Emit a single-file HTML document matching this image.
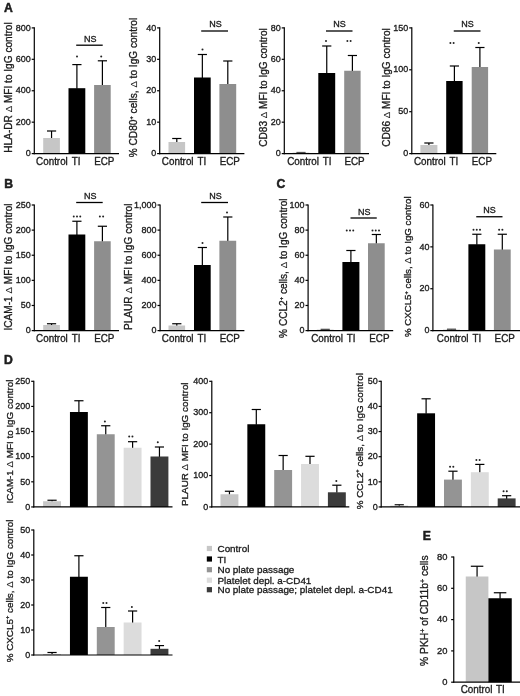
<!DOCTYPE html>
<html><head><meta charset="utf-8"><title>Figure</title>
<style>
html,body{margin:0;padding:0;background:#fff;}
body{width:520px;height:696px;overflow:hidden;font-family:"Liberation Sans",sans-serif;}
svg{display:block;}
</style></head><body>
<svg width="520" height="696" viewBox="0 0 520 696" font-family="'Liberation Sans', sans-serif" fill="#1c1c1c">
<defs><filter id="bs" x="0" y="0" width="520" height="696" filterUnits="userSpaceOnUse"><feGaussianBlur stdDeviation="0.3"/></filter>
<filter id="bt" x="0" y="0" width="520" height="696" filterUnits="userSpaceOnUse"><feGaussianBlur stdDeviation="0.45"/></filter></defs>
<rect x="0" y="0" width="520" height="696" fill="#ffffff"/>
<g filter="url(#bs)">
<line x1="51.55" y1="131.00" x2="51.55" y2="138.50" stroke="#000" stroke-width="1.2"/>
<line x1="46.95" y1="131.00" x2="56.15" y2="131.00" stroke="#000" stroke-width="1.2"/>
<rect x="43.20" y="138.00" width="16.70" height="15.60" fill="#c6c6c6" stroke="none"/>
<line x1="76.90" y1="64.60" x2="76.90" y2="88.70" stroke="#000" stroke-width="1.2"/>
<line x1="72.30" y1="64.60" x2="81.50" y2="64.60" stroke="#000" stroke-width="1.2"/>
<rect x="68.50" y="88.20" width="16.80" height="65.40" fill="#000000" stroke="none"/>
<line x1="102.40" y1="60.80" x2="102.40" y2="85.50" stroke="#000" stroke-width="1.2"/>
<line x1="97.80" y1="60.80" x2="107.00" y2="60.80" stroke="#000" stroke-width="1.2"/>
<rect x="94.10" y="85.00" width="16.60" height="68.60" fill="#8e8e8e" stroke="none"/>
<line x1="34.30" y1="27.30" x2="34.30" y2="154.20" stroke="#000" stroke-width="1.2"/>
<line x1="33.70" y1="153.60" x2="119.00" y2="153.60" stroke="#000" stroke-width="1.2"/>
<line x1="31.70" y1="27.90" x2="34.30" y2="27.90" stroke="#000" stroke-width="1.2"/>
<line x1="31.70" y1="59.32" x2="34.30" y2="59.32" stroke="#000" stroke-width="1.2"/>
<line x1="31.70" y1="90.75" x2="34.30" y2="90.75" stroke="#000" stroke-width="1.2"/>
<line x1="31.70" y1="122.17" x2="34.30" y2="122.17" stroke="#000" stroke-width="1.2"/>
<line x1="31.70" y1="153.60" x2="34.30" y2="153.60" stroke="#000" stroke-width="1.2"/>
<line x1="76.20" y1="45.20" x2="102.70" y2="45.20" stroke="#000" stroke-width="1.3"/>
<line x1="176.80" y1="138.50" x2="176.80" y2="142.50" stroke="#000" stroke-width="1.2"/>
<line x1="172.20" y1="138.50" x2="181.40" y2="138.50" stroke="#000" stroke-width="1.2"/>
<rect x="168.50" y="142.00" width="16.60" height="11.60" fill="#c6c6c6" stroke="none"/>
<line x1="202.35" y1="54.50" x2="202.35" y2="78.00" stroke="#000" stroke-width="1.2"/>
<line x1="197.75" y1="54.50" x2="206.95" y2="54.50" stroke="#000" stroke-width="1.2"/>
<rect x="194.00" y="77.50" width="16.70" height="76.10" fill="#000000" stroke="none"/>
<line x1="227.80" y1="61.00" x2="227.80" y2="84.50" stroke="#000" stroke-width="1.2"/>
<line x1="223.20" y1="61.00" x2="232.40" y2="61.00" stroke="#000" stroke-width="1.2"/>
<rect x="219.40" y="84.00" width="16.80" height="69.60" fill="#8e8e8e" stroke="none"/>
<line x1="159.70" y1="27.30" x2="159.70" y2="154.20" stroke="#000" stroke-width="1.2"/>
<line x1="159.10" y1="153.60" x2="244.40" y2="153.60" stroke="#000" stroke-width="1.2"/>
<line x1="157.10" y1="27.90" x2="159.70" y2="27.90" stroke="#000" stroke-width="1.2"/>
<line x1="157.10" y1="59.32" x2="159.70" y2="59.32" stroke="#000" stroke-width="1.2"/>
<line x1="157.10" y1="90.75" x2="159.70" y2="90.75" stroke="#000" stroke-width="1.2"/>
<line x1="157.10" y1="122.17" x2="159.70" y2="122.17" stroke="#000" stroke-width="1.2"/>
<line x1="157.10" y1="153.60" x2="159.70" y2="153.60" stroke="#000" stroke-width="1.2"/>
<line x1="201.20" y1="31.00" x2="228.00" y2="31.00" stroke="#000" stroke-width="1.3"/>
<line x1="301.00" y1="152.50" x2="301.00" y2="153.10" stroke="#000" stroke-width="1.2"/>
<line x1="296.40" y1="152.50" x2="305.60" y2="152.50" stroke="#000" stroke-width="1.2"/>
<rect x="292.60" y="152.60" width="16.80" height="1.00" fill="#c6c6c6" stroke="none"/>
<line x1="326.75" y1="46.00" x2="326.75" y2="73.50" stroke="#000" stroke-width="1.2"/>
<line x1="322.15" y1="46.00" x2="331.35" y2="46.00" stroke="#000" stroke-width="1.2"/>
<rect x="318.30" y="73.00" width="16.90" height="80.60" fill="#000000" stroke="none"/>
<line x1="352.40" y1="55.50" x2="352.40" y2="71.25" stroke="#000" stroke-width="1.2"/>
<line x1="347.80" y1="55.50" x2="357.00" y2="55.50" stroke="#000" stroke-width="1.2"/>
<rect x="344.20" y="70.75" width="16.40" height="82.85" fill="#8e8e8e" stroke="none"/>
<line x1="284.30" y1="27.30" x2="284.30" y2="154.20" stroke="#000" stroke-width="1.2"/>
<line x1="283.70" y1="153.60" x2="369.00" y2="153.60" stroke="#000" stroke-width="1.2"/>
<line x1="281.70" y1="27.90" x2="284.30" y2="27.90" stroke="#000" stroke-width="1.2"/>
<line x1="281.70" y1="59.32" x2="284.30" y2="59.32" stroke="#000" stroke-width="1.2"/>
<line x1="281.70" y1="90.75" x2="284.30" y2="90.75" stroke="#000" stroke-width="1.2"/>
<line x1="281.70" y1="122.17" x2="284.30" y2="122.17" stroke="#000" stroke-width="1.2"/>
<line x1="281.70" y1="153.60" x2="284.30" y2="153.60" stroke="#000" stroke-width="1.2"/>
<line x1="326.00" y1="31.00" x2="352.50" y2="31.00" stroke="#000" stroke-width="1.3"/>
<line x1="428.90" y1="143.00" x2="428.90" y2="145.50" stroke="#000" stroke-width="1.2"/>
<line x1="424.30" y1="143.00" x2="433.50" y2="143.00" stroke="#000" stroke-width="1.2"/>
<rect x="420.40" y="145.00" width="17.00" height="8.60" fill="#c6c6c6" stroke="none"/>
<line x1="454.40" y1="66.00" x2="454.40" y2="81.50" stroke="#000" stroke-width="1.2"/>
<line x1="449.80" y1="66.00" x2="459.00" y2="66.00" stroke="#000" stroke-width="1.2"/>
<rect x="446.20" y="81.00" width="16.40" height="72.60" fill="#000000" stroke="none"/>
<line x1="479.90" y1="47.50" x2="479.90" y2="67.50" stroke="#000" stroke-width="1.2"/>
<line x1="475.30" y1="47.50" x2="484.50" y2="47.50" stroke="#000" stroke-width="1.2"/>
<rect x="471.70" y="67.00" width="16.40" height="86.60" fill="#8e8e8e" stroke="none"/>
<line x1="411.80" y1="27.30" x2="411.80" y2="154.20" stroke="#000" stroke-width="1.2"/>
<line x1="411.20" y1="153.60" x2="496.30" y2="153.60" stroke="#000" stroke-width="1.2"/>
<line x1="409.20" y1="27.90" x2="411.80" y2="27.90" stroke="#000" stroke-width="1.2"/>
<line x1="409.20" y1="69.80" x2="411.80" y2="69.80" stroke="#000" stroke-width="1.2"/>
<line x1="409.20" y1="111.70" x2="411.80" y2="111.70" stroke="#000" stroke-width="1.2"/>
<line x1="409.20" y1="153.60" x2="411.80" y2="153.60" stroke="#000" stroke-width="1.2"/>
<line x1="453.75" y1="31.00" x2="480.50" y2="31.00" stroke="#000" stroke-width="1.3"/>
<line x1="51.55" y1="323.75" x2="51.55" y2="325.50" stroke="#000" stroke-width="1.2"/>
<line x1="46.95" y1="323.75" x2="56.15" y2="323.75" stroke="#000" stroke-width="1.2"/>
<rect x="43.20" y="325.00" width="16.70" height="5.60" fill="#c6c6c6" stroke="none"/>
<line x1="76.90" y1="221.25" x2="76.90" y2="235.00" stroke="#000" stroke-width="1.2"/>
<line x1="72.30" y1="221.25" x2="81.50" y2="221.25" stroke="#000" stroke-width="1.2"/>
<rect x="68.50" y="234.50" width="16.80" height="96.10" fill="#000000" stroke="none"/>
<line x1="102.40" y1="226.25" x2="102.40" y2="241.75" stroke="#000" stroke-width="1.2"/>
<line x1="97.80" y1="226.25" x2="107.00" y2="226.25" stroke="#000" stroke-width="1.2"/>
<rect x="94.10" y="241.25" width="16.60" height="89.35" fill="#8e8e8e" stroke="none"/>
<line x1="34.30" y1="204.40" x2="34.30" y2="331.20" stroke="#000" stroke-width="1.2"/>
<line x1="33.70" y1="330.60" x2="119.00" y2="330.60" stroke="#000" stroke-width="1.2"/>
<line x1="31.70" y1="205.00" x2="34.30" y2="205.00" stroke="#000" stroke-width="1.2"/>
<line x1="31.70" y1="230.12" x2="34.30" y2="230.12" stroke="#000" stroke-width="1.2"/>
<line x1="31.70" y1="255.24" x2="34.30" y2="255.24" stroke="#000" stroke-width="1.2"/>
<line x1="31.70" y1="280.36" x2="34.30" y2="280.36" stroke="#000" stroke-width="1.2"/>
<line x1="31.70" y1="305.48" x2="34.30" y2="305.48" stroke="#000" stroke-width="1.2"/>
<line x1="31.70" y1="330.60" x2="34.30" y2="330.60" stroke="#000" stroke-width="1.2"/>
<line x1="76.20" y1="202.50" x2="102.70" y2="202.50" stroke="#000" stroke-width="1.3"/>
<line x1="176.80" y1="323.75" x2="176.80" y2="326.00" stroke="#000" stroke-width="1.2"/>
<line x1="172.20" y1="323.75" x2="181.40" y2="323.75" stroke="#000" stroke-width="1.2"/>
<rect x="168.50" y="325.50" width="16.60" height="5.10" fill="#c6c6c6" stroke="none"/>
<line x1="202.35" y1="247.50" x2="202.35" y2="265.50" stroke="#000" stroke-width="1.2"/>
<line x1="197.75" y1="247.50" x2="206.95" y2="247.50" stroke="#000" stroke-width="1.2"/>
<rect x="194.00" y="265.00" width="16.70" height="65.60" fill="#000000" stroke="none"/>
<line x1="227.80" y1="217.00" x2="227.80" y2="241.25" stroke="#000" stroke-width="1.2"/>
<line x1="223.20" y1="217.00" x2="232.40" y2="217.00" stroke="#000" stroke-width="1.2"/>
<rect x="219.40" y="240.75" width="16.80" height="89.85" fill="#8e8e8e" stroke="none"/>
<line x1="160.10" y1="204.40" x2="160.10" y2="331.20" stroke="#000" stroke-width="1.2"/>
<line x1="159.50" y1="330.60" x2="244.40" y2="330.60" stroke="#000" stroke-width="1.2"/>
<line x1="157.50" y1="205.00" x2="160.10" y2="205.00" stroke="#000" stroke-width="1.2"/>
<line x1="157.50" y1="230.12" x2="160.10" y2="230.12" stroke="#000" stroke-width="1.2"/>
<line x1="157.50" y1="255.24" x2="160.10" y2="255.24" stroke="#000" stroke-width="1.2"/>
<line x1="157.50" y1="280.36" x2="160.10" y2="280.36" stroke="#000" stroke-width="1.2"/>
<line x1="157.50" y1="305.48" x2="160.10" y2="305.48" stroke="#000" stroke-width="1.2"/>
<line x1="157.50" y1="330.60" x2="160.10" y2="330.60" stroke="#000" stroke-width="1.2"/>
<line x1="201.20" y1="202.50" x2="228.00" y2="202.50" stroke="#000" stroke-width="1.3"/>
<line x1="325.20" y1="329.40" x2="325.20" y2="330.10" stroke="#000" stroke-width="1.2"/>
<line x1="320.60" y1="329.40" x2="329.80" y2="329.40" stroke="#000" stroke-width="1.2"/>
<rect x="316.80" y="329.60" width="16.80" height="1.00" fill="#c6c6c6" stroke="none"/>
<line x1="350.90" y1="250.50" x2="350.90" y2="262.50" stroke="#000" stroke-width="1.2"/>
<line x1="346.30" y1="250.50" x2="355.50" y2="250.50" stroke="#000" stroke-width="1.2"/>
<rect x="342.40" y="262.00" width="17.00" height="68.60" fill="#000000" stroke="none"/>
<line x1="376.35" y1="234.50" x2="376.35" y2="243.75" stroke="#000" stroke-width="1.2"/>
<line x1="371.75" y1="234.50" x2="380.95" y2="234.50" stroke="#000" stroke-width="1.2"/>
<rect x="368.00" y="243.25" width="16.70" height="87.35" fill="#8e8e8e" stroke="none"/>
<line x1="308.10" y1="204.40" x2="308.10" y2="331.20" stroke="#000" stroke-width="1.2"/>
<line x1="307.50" y1="330.60" x2="393.20" y2="330.60" stroke="#000" stroke-width="1.2"/>
<line x1="305.50" y1="205.00" x2="308.10" y2="205.00" stroke="#000" stroke-width="1.2"/>
<line x1="305.50" y1="230.12" x2="308.10" y2="230.12" stroke="#000" stroke-width="1.2"/>
<line x1="305.50" y1="255.24" x2="308.10" y2="255.24" stroke="#000" stroke-width="1.2"/>
<line x1="305.50" y1="280.36" x2="308.10" y2="280.36" stroke="#000" stroke-width="1.2"/>
<line x1="305.50" y1="305.48" x2="308.10" y2="305.48" stroke="#000" stroke-width="1.2"/>
<line x1="305.50" y1="330.60" x2="308.10" y2="330.60" stroke="#000" stroke-width="1.2"/>
<line x1="350.50" y1="218.00" x2="376.75" y2="218.00" stroke="#000" stroke-width="1.3"/>
<line x1="451.50" y1="329.30" x2="451.50" y2="330.10" stroke="#000" stroke-width="1.2"/>
<line x1="446.90" y1="329.30" x2="456.10" y2="329.30" stroke="#000" stroke-width="1.2"/>
<rect x="443.00" y="329.60" width="17.00" height="1.00" fill="#c6c6c6" stroke="none"/>
<line x1="476.85" y1="234.25" x2="476.85" y2="244.75" stroke="#000" stroke-width="1.2"/>
<line x1="472.25" y1="234.25" x2="481.45" y2="234.25" stroke="#000" stroke-width="1.2"/>
<rect x="468.40" y="244.25" width="16.90" height="86.35" fill="#000000" stroke="none"/>
<line x1="502.30" y1="234.25" x2="502.30" y2="250.00" stroke="#000" stroke-width="1.2"/>
<line x1="497.70" y1="234.25" x2="506.90" y2="234.25" stroke="#000" stroke-width="1.2"/>
<rect x="493.90" y="249.50" width="16.80" height="81.10" fill="#8e8e8e" stroke="none"/>
<line x1="432.90" y1="204.40" x2="432.90" y2="331.20" stroke="#000" stroke-width="1.2"/>
<line x1="432.30" y1="330.60" x2="520.00" y2="330.60" stroke="#000" stroke-width="1.2"/>
<line x1="430.30" y1="205.00" x2="432.90" y2="205.00" stroke="#000" stroke-width="1.2"/>
<line x1="430.30" y1="246.87" x2="432.90" y2="246.87" stroke="#000" stroke-width="1.2"/>
<line x1="430.30" y1="288.73" x2="432.90" y2="288.73" stroke="#000" stroke-width="1.2"/>
<line x1="430.30" y1="330.60" x2="432.90" y2="330.60" stroke="#000" stroke-width="1.2"/>
<line x1="476.25" y1="216.75" x2="502.50" y2="216.75" stroke="#000" stroke-width="1.3"/>
<line x1="52.05" y1="500.25" x2="52.05" y2="501.75" stroke="#000" stroke-width="1.2"/>
<line x1="47.45" y1="500.25" x2="56.65" y2="500.25" stroke="#000" stroke-width="1.2"/>
<rect x="43.10" y="501.25" width="17.90" height="5.70" fill="#c6c6c6" stroke="none"/>
<line x1="78.90" y1="400.75" x2="78.90" y2="412.50" stroke="#000" stroke-width="1.2"/>
<line x1="74.30" y1="400.75" x2="83.50" y2="400.75" stroke="#000" stroke-width="1.2"/>
<rect x="69.95" y="412.00" width="17.90" height="94.95" fill="#000000" stroke="none"/>
<line x1="105.75" y1="425.75" x2="105.75" y2="434.75" stroke="#000" stroke-width="1.2"/>
<line x1="101.15" y1="425.75" x2="110.35" y2="425.75" stroke="#000" stroke-width="1.2"/>
<rect x="96.80" y="434.25" width="17.90" height="72.70" fill="#949494" stroke="none"/>
<line x1="132.60" y1="441.70" x2="132.60" y2="448.25" stroke="#000" stroke-width="1.2"/>
<line x1="128.00" y1="441.70" x2="137.20" y2="441.70" stroke="#000" stroke-width="1.2"/>
<rect x="123.65" y="447.75" width="17.90" height="59.20" fill="#dcdcdc" stroke="none"/>
<line x1="159.45" y1="447.00" x2="159.45" y2="457.00" stroke="#000" stroke-width="1.2"/>
<line x1="154.85" y1="447.00" x2="164.05" y2="447.00" stroke="#000" stroke-width="1.2"/>
<rect x="150.50" y="456.50" width="17.90" height="50.45" fill="#3a3a3a" stroke="none"/>
<line x1="33.80" y1="380.70" x2="33.80" y2="507.55" stroke="#000" stroke-width="1.2"/>
<line x1="33.20" y1="506.95" x2="172.50" y2="506.95" stroke="#000" stroke-width="1.2"/>
<line x1="31.20" y1="381.30" x2="33.80" y2="381.30" stroke="#000" stroke-width="1.2"/>
<line x1="31.20" y1="406.43" x2="33.80" y2="406.43" stroke="#000" stroke-width="1.2"/>
<line x1="31.20" y1="431.56" x2="33.80" y2="431.56" stroke="#000" stroke-width="1.2"/>
<line x1="31.20" y1="456.69" x2="33.80" y2="456.69" stroke="#000" stroke-width="1.2"/>
<line x1="31.20" y1="481.82" x2="33.80" y2="481.82" stroke="#000" stroke-width="1.2"/>
<line x1="31.20" y1="506.95" x2="33.80" y2="506.95" stroke="#000" stroke-width="1.2"/>
<line x1="229.45" y1="491.25" x2="229.45" y2="494.75" stroke="#000" stroke-width="1.2"/>
<line x1="224.85" y1="491.25" x2="234.05" y2="491.25" stroke="#000" stroke-width="1.2"/>
<rect x="220.50" y="494.25" width="17.90" height="12.70" fill="#c6c6c6" stroke="none"/>
<line x1="256.30" y1="409.50" x2="256.30" y2="424.75" stroke="#000" stroke-width="1.2"/>
<line x1="251.70" y1="409.50" x2="260.90" y2="409.50" stroke="#000" stroke-width="1.2"/>
<rect x="247.35" y="424.25" width="17.90" height="82.70" fill="#000000" stroke="none"/>
<line x1="283.15" y1="455.50" x2="283.15" y2="470.50" stroke="#000" stroke-width="1.2"/>
<line x1="278.55" y1="455.50" x2="287.75" y2="455.50" stroke="#000" stroke-width="1.2"/>
<rect x="274.20" y="470.00" width="17.90" height="36.95" fill="#949494" stroke="none"/>
<line x1="310.00" y1="456.30" x2="310.00" y2="464.50" stroke="#000" stroke-width="1.2"/>
<line x1="305.40" y1="456.30" x2="314.60" y2="456.30" stroke="#000" stroke-width="1.2"/>
<rect x="301.05" y="464.00" width="17.90" height="42.95" fill="#dcdcdc" stroke="none"/>
<line x1="336.85" y1="485.20" x2="336.85" y2="492.80" stroke="#000" stroke-width="1.2"/>
<line x1="332.25" y1="485.20" x2="341.45" y2="485.20" stroke="#000" stroke-width="1.2"/>
<rect x="327.90" y="492.30" width="17.90" height="14.65" fill="#3a3a3a" stroke="none"/>
<line x1="211.80" y1="380.70" x2="211.80" y2="507.55" stroke="#000" stroke-width="1.2"/>
<line x1="211.20" y1="506.95" x2="349.30" y2="506.95" stroke="#000" stroke-width="1.2"/>
<line x1="209.20" y1="381.30" x2="211.80" y2="381.30" stroke="#000" stroke-width="1.2"/>
<line x1="209.20" y1="412.71" x2="211.80" y2="412.71" stroke="#000" stroke-width="1.2"/>
<line x1="209.20" y1="444.12" x2="211.80" y2="444.12" stroke="#000" stroke-width="1.2"/>
<line x1="209.20" y1="475.54" x2="211.80" y2="475.54" stroke="#000" stroke-width="1.2"/>
<line x1="209.20" y1="506.95" x2="211.80" y2="506.95" stroke="#000" stroke-width="1.2"/>
<line x1="399.25" y1="504.80" x2="399.25" y2="506.20" stroke="#000" stroke-width="1.2"/>
<line x1="394.65" y1="504.80" x2="403.85" y2="504.80" stroke="#000" stroke-width="1.2"/>
<rect x="390.30" y="505.70" width="17.90" height="1.25" fill="#c6c6c6" stroke="none"/>
<line x1="426.10" y1="398.80" x2="426.10" y2="413.80" stroke="#000" stroke-width="1.2"/>
<line x1="421.50" y1="398.80" x2="430.70" y2="398.80" stroke="#000" stroke-width="1.2"/>
<rect x="417.15" y="413.30" width="17.90" height="93.65" fill="#000000" stroke="none"/>
<line x1="452.95" y1="471.20" x2="452.95" y2="480.10" stroke="#000" stroke-width="1.2"/>
<line x1="448.35" y1="471.20" x2="457.55" y2="471.20" stroke="#000" stroke-width="1.2"/>
<rect x="444.00" y="479.60" width="17.90" height="27.35" fill="#949494" stroke="none"/>
<line x1="479.80" y1="464.40" x2="479.80" y2="472.70" stroke="#000" stroke-width="1.2"/>
<line x1="475.20" y1="464.40" x2="484.40" y2="464.40" stroke="#000" stroke-width="1.2"/>
<rect x="470.85" y="472.20" width="17.90" height="34.75" fill="#dcdcdc" stroke="none"/>
<line x1="506.65" y1="495.70" x2="506.65" y2="498.90" stroke="#000" stroke-width="1.2"/>
<line x1="502.05" y1="495.70" x2="511.25" y2="495.70" stroke="#000" stroke-width="1.2"/>
<rect x="497.70" y="498.40" width="17.90" height="8.55" fill="#3a3a3a" stroke="none"/>
<line x1="381.20" y1="380.70" x2="381.20" y2="507.55" stroke="#000" stroke-width="1.2"/>
<line x1="380.60" y1="506.95" x2="520.00" y2="506.95" stroke="#000" stroke-width="1.2"/>
<line x1="378.60" y1="381.30" x2="381.20" y2="381.30" stroke="#000" stroke-width="1.2"/>
<line x1="378.60" y1="406.43" x2="381.20" y2="406.43" stroke="#000" stroke-width="1.2"/>
<line x1="378.60" y1="431.56" x2="381.20" y2="431.56" stroke="#000" stroke-width="1.2"/>
<line x1="378.60" y1="456.69" x2="381.20" y2="456.69" stroke="#000" stroke-width="1.2"/>
<line x1="378.60" y1="481.82" x2="381.20" y2="481.82" stroke="#000" stroke-width="1.2"/>
<line x1="378.60" y1="506.95" x2="381.20" y2="506.95" stroke="#000" stroke-width="1.2"/>
<line x1="52.05" y1="652.50" x2="52.05" y2="654.50" stroke="#000" stroke-width="1.2"/>
<line x1="47.45" y1="652.50" x2="56.65" y2="652.50" stroke="#000" stroke-width="1.2"/>
<rect x="43.10" y="654.00" width="17.90" height="1.00" fill="#c6c6c6" stroke="none"/>
<line x1="78.90" y1="555.75" x2="78.90" y2="577.25" stroke="#000" stroke-width="1.2"/>
<line x1="74.30" y1="555.75" x2="83.50" y2="555.75" stroke="#000" stroke-width="1.2"/>
<rect x="69.95" y="576.75" width="17.90" height="78.25" fill="#000000" stroke="none"/>
<line x1="105.75" y1="607.50" x2="105.75" y2="627.50" stroke="#000" stroke-width="1.2"/>
<line x1="101.15" y1="607.50" x2="110.35" y2="607.50" stroke="#000" stroke-width="1.2"/>
<rect x="96.80" y="627.00" width="17.90" height="28.00" fill="#949494" stroke="none"/>
<line x1="132.60" y1="611.00" x2="132.60" y2="623.00" stroke="#000" stroke-width="1.2"/>
<line x1="128.00" y1="611.00" x2="137.20" y2="611.00" stroke="#000" stroke-width="1.2"/>
<rect x="123.65" y="622.50" width="17.90" height="32.50" fill="#dcdcdc" stroke="none"/>
<line x1="159.45" y1="645.60" x2="159.45" y2="649.30" stroke="#000" stroke-width="1.2"/>
<line x1="154.85" y1="645.60" x2="164.05" y2="645.60" stroke="#000" stroke-width="1.2"/>
<rect x="150.50" y="648.80" width="17.90" height="6.20" fill="#3a3a3a" stroke="none"/>
<line x1="33.80" y1="529.40" x2="33.80" y2="655.60" stroke="#000" stroke-width="1.2"/>
<line x1="33.20" y1="655.00" x2="172.50" y2="655.00" stroke="#000" stroke-width="1.2"/>
<line x1="31.20" y1="530.00" x2="33.80" y2="530.00" stroke="#000" stroke-width="1.2"/>
<line x1="31.20" y1="555.00" x2="33.80" y2="555.00" stroke="#000" stroke-width="1.2"/>
<line x1="31.20" y1="580.00" x2="33.80" y2="580.00" stroke="#000" stroke-width="1.2"/>
<line x1="31.20" y1="605.00" x2="33.80" y2="605.00" stroke="#000" stroke-width="1.2"/>
<line x1="31.20" y1="630.00" x2="33.80" y2="630.00" stroke="#000" stroke-width="1.2"/>
<line x1="31.20" y1="655.00" x2="33.80" y2="655.00" stroke="#000" stroke-width="1.2"/>
<line x1="477.07" y1="566.25" x2="477.07" y2="577.00" stroke="#000" stroke-width="1.2"/>
<line x1="470.82" y1="566.25" x2="483.32" y2="566.25" stroke="#000" stroke-width="1.2"/>
<rect x="465.75" y="576.50" width="22.65" height="105.70" fill="#c6c6c6" stroke="none"/>
<line x1="500.07" y1="592.75" x2="500.07" y2="598.75" stroke="#000" stroke-width="1.2"/>
<line x1="493.82" y1="592.75" x2="506.32" y2="592.75" stroke="#000" stroke-width="1.2"/>
<rect x="488.40" y="598.25" width="23.35" height="83.95" fill="#000000" stroke="none"/>
<line x1="453.75" y1="556.40" x2="453.75" y2="682.80" stroke="#000" stroke-width="1.2"/>
<line x1="453.15" y1="682.20" x2="520.00" y2="682.20" stroke="#000" stroke-width="1.2"/>
<line x1="451.15" y1="557.00" x2="453.75" y2="557.00" stroke="#000" stroke-width="1.2"/>
<line x1="451.15" y1="588.30" x2="453.75" y2="588.30" stroke="#000" stroke-width="1.2"/>
<line x1="451.15" y1="619.60" x2="453.75" y2="619.60" stroke="#000" stroke-width="1.2"/>
<line x1="451.15" y1="650.90" x2="453.75" y2="650.90" stroke="#000" stroke-width="1.2"/>
<line x1="451.15" y1="682.20" x2="453.75" y2="682.20" stroke="#000" stroke-width="1.2"/>
<rect x="206.8" y="545.90" width="5.2" height="5.2" fill="#c6c6c6" stroke="none"/>
<rect x="206.8" y="556.40" width="5.2" height="5.2" fill="#000000" stroke="none"/>
<rect x="206.8" y="567.10" width="5.2" height="5.2" fill="#949494" stroke="none"/>
<rect x="206.8" y="577.60" width="5.2" height="5.2" fill="#dcdcdc" stroke="none"/>
<rect x="206.8" y="587.10" width="5.2" height="5.2" fill="#3a3a3a" stroke="none"/>
</g>
<g filter="url(#bt)" stroke="#1c1c1c" stroke-width="0.32" stroke-linejoin="round">
<text transform="translate(30.80,30.58) scale(1,1.05)" font-size="9.0" text-anchor="end" font-weight="normal" >800</text>
<text transform="translate(30.80,62.01) scale(1,1.05)" font-size="9.0" text-anchor="end" font-weight="normal" >600</text>
<text transform="translate(30.80,93.43) scale(1,1.05)" font-size="9.0" text-anchor="end" font-weight="normal" >400</text>
<text transform="translate(30.80,124.86) scale(1,1.05)" font-size="9.0" text-anchor="end" font-weight="normal" >200</text>
<text transform="translate(30.80,156.28) scale(1,1.05)" font-size="9.0" text-anchor="end" font-weight="normal" >0</text>
<text transform="translate(51.95,164.70) scale(1,1.05)" font-size="9.85" text-anchor="middle" font-weight="normal" >Control</text>
<text transform="translate(76.20,164.70) scale(1,1.05)" font-size="9.85" text-anchor="middle" font-weight="normal" >TI</text>
<text transform="translate(104.30,164.70) scale(1,1.05)" font-size="9.85" text-anchor="middle" font-weight="normal" >ECP</text>
<text transform="translate(12.00,87.50) scale(1.0,1) rotate(-90)" font-size="10.1" text-anchor="middle">HLA-DR <tspan font-size="9.6" stroke-width="0.1">&#916;</tspan> MFI to IgG control</text>
<text transform="translate(90.30,42.30) scale(1,1.05)" font-size="9.0" text-anchor="middle" font-weight="normal" >NS</text>
<circle cx="77.00" cy="56.40" r="1.0" fill="#222" stroke="none"/>
<circle cx="101.20" cy="56.40" r="1.0" fill="#222" stroke="none"/>
<text transform="translate(156.20,30.58) scale(1,1.05)" font-size="9.0" text-anchor="end" font-weight="normal" >40</text>
<text transform="translate(156.20,62.01) scale(1,1.05)" font-size="9.0" text-anchor="end" font-weight="normal" >30</text>
<text transform="translate(156.20,93.43) scale(1,1.05)" font-size="9.0" text-anchor="end" font-weight="normal" >20</text>
<text transform="translate(156.20,124.86) scale(1,1.05)" font-size="9.0" text-anchor="end" font-weight="normal" >10</text>
<text transform="translate(156.20,156.28) scale(1,1.05)" font-size="9.0" text-anchor="end" font-weight="normal" >0</text>
<text transform="translate(177.70,164.70) scale(1,1.05)" font-size="9.85" text-anchor="middle" font-weight="normal" >Control</text>
<text transform="translate(201.85,164.70) scale(1,1.05)" font-size="9.85" text-anchor="middle" font-weight="normal" >TI</text>
<text transform="translate(229.80,164.70) scale(1,1.05)" font-size="9.85" text-anchor="middle" font-weight="normal" >ECP</text>
<text transform="translate(137.00,87.50) scale(1.0,1) rotate(-90)" font-size="10.1" text-anchor="middle">% CD80<tspan font-size="5.8" dy="-3.7">+</tspan><tspan dy="3.7"> cells, <tspan font-size="9.6" stroke-width="0.1">&#916;</tspan> to IgG control</tspan></text>
<text transform="translate(215.50,27.30) scale(1,1.05)" font-size="9.0" text-anchor="middle" font-weight="normal" >NS</text>
<circle cx="202.50" cy="49.60" r="1.0" fill="#222" stroke="none"/>
<text transform="translate(280.80,30.58) scale(1,1.05)" font-size="9.0" text-anchor="end" font-weight="normal" >80</text>
<text transform="translate(280.80,62.01) scale(1,1.05)" font-size="9.0" text-anchor="end" font-weight="normal" >60</text>
<text transform="translate(280.80,93.43) scale(1,1.05)" font-size="9.0" text-anchor="end" font-weight="normal" >40</text>
<text transform="translate(280.80,124.86) scale(1,1.05)" font-size="9.0" text-anchor="end" font-weight="normal" >20</text>
<text transform="translate(280.80,156.28) scale(1,1.05)" font-size="9.0" text-anchor="end" font-weight="normal" >0</text>
<text transform="translate(303.00,164.70) scale(1,1.05)" font-size="9.85" text-anchor="middle" font-weight="normal" >Control</text>
<text transform="translate(327.15,164.70) scale(1,1.05)" font-size="9.85" text-anchor="middle" font-weight="normal" >TI</text>
<text transform="translate(354.50,164.70) scale(1,1.05)" font-size="9.85" text-anchor="middle" font-weight="normal" >ECP</text>
<text transform="translate(267.00,87.50) scale(1.0,1) rotate(-90)" font-size="10.1" text-anchor="middle">CD83 <tspan font-size="9.6" stroke-width="0.1">&#916;</tspan> MFI to IgG control</text>
<text transform="translate(339.50,27.30) scale(1,1.05)" font-size="9.0" text-anchor="middle" font-weight="normal" >NS</text>
<circle cx="326.00" cy="41.10" r="1.0" fill="#222" stroke="none"/>
<circle cx="347.38" cy="41.10" r="1.0" fill="#222" stroke="none"/>
<circle cx="350.62" cy="41.10" r="1.0" fill="#222" stroke="none"/>
<text transform="translate(408.30,30.58) scale(1,1.05)" font-size="9.0" text-anchor="end" font-weight="normal" >150</text>
<text transform="translate(408.30,72.48) scale(1,1.05)" font-size="9.0" text-anchor="end" font-weight="normal" >100</text>
<text transform="translate(408.30,114.38) scale(1,1.05)" font-size="9.0" text-anchor="end" font-weight="normal" >50</text>
<text transform="translate(408.30,156.28) scale(1,1.05)" font-size="9.0" text-anchor="end" font-weight="normal" >0</text>
<text transform="translate(429.80,164.70) scale(1,1.05)" font-size="9.85" text-anchor="middle" font-weight="normal" >Control</text>
<text transform="translate(453.90,164.70) scale(1,1.05)" font-size="9.85" text-anchor="middle" font-weight="normal" >TI</text>
<text transform="translate(481.90,164.70) scale(1,1.05)" font-size="9.85" text-anchor="middle" font-weight="normal" >ECP</text>
<text transform="translate(390.00,87.50) scale(1.0,1) rotate(-90)" font-size="10.1" text-anchor="middle">CD86 <tspan font-size="9.6" stroke-width="0.1">&#916;</tspan> MFI to IgG control</text>
<text transform="translate(467.50,27.30) scale(1,1.05)" font-size="9.0" text-anchor="middle" font-weight="normal" >NS</text>
<circle cx="450.38" cy="43.10" r="1.0" fill="#222" stroke="none"/>
<circle cx="453.62" cy="43.10" r="1.0" fill="#222" stroke="none"/>
<circle cx="478.75" cy="43.10" r="1.0" fill="#222" stroke="none"/>
<text transform="translate(30.80,207.68) scale(1,1.05)" font-size="9.0" text-anchor="end" font-weight="normal" >250</text>
<text transform="translate(30.80,232.80) scale(1,1.05)" font-size="9.0" text-anchor="end" font-weight="normal" >200</text>
<text transform="translate(30.80,257.92) scale(1,1.05)" font-size="9.0" text-anchor="end" font-weight="normal" >150</text>
<text transform="translate(30.80,283.04) scale(1,1.05)" font-size="9.0" text-anchor="end" font-weight="normal" >100</text>
<text transform="translate(30.80,308.16) scale(1,1.05)" font-size="9.0" text-anchor="end" font-weight="normal" >50</text>
<text transform="translate(30.80,333.28) scale(1,1.05)" font-size="9.0" text-anchor="end" font-weight="normal" >0</text>
<text transform="translate(51.95,341.70) scale(1,1.05)" font-size="9.85" text-anchor="middle" font-weight="normal" >Control</text>
<text transform="translate(76.20,341.70) scale(1,1.05)" font-size="9.85" text-anchor="middle" font-weight="normal" >TI</text>
<text transform="translate(104.30,341.70) scale(1,1.05)" font-size="9.85" text-anchor="middle" font-weight="normal" >ECP</text>
<text transform="translate(12.00,267.00) scale(1.0,1) rotate(-90)" font-size="10.1" text-anchor="middle">ICAM-1 <tspan font-size="9.6" stroke-width="0.1">&#916;</tspan> MFI to IgG control</text>
<text transform="translate(90.30,199.20) scale(1,1.05)" font-size="9.0" text-anchor="middle" font-weight="normal" >NS</text>
<circle cx="73.75" cy="216.60" r="1.0" fill="#222" stroke="none"/>
<circle cx="77.00" cy="216.60" r="1.0" fill="#222" stroke="none"/>
<circle cx="80.25" cy="216.60" r="1.0" fill="#222" stroke="none"/>
<circle cx="99.88" cy="216.60" r="1.0" fill="#222" stroke="none"/>
<circle cx="103.12" cy="216.60" r="1.0" fill="#222" stroke="none"/>
<text transform="translate(156.60,207.68) scale(1,1.05)" font-size="9.0" text-anchor="end" font-weight="normal" >1,000</text>
<text transform="translate(156.60,232.80) scale(1,1.05)" font-size="9.0" text-anchor="end" font-weight="normal" >800</text>
<text transform="translate(156.60,257.92) scale(1,1.05)" font-size="9.0" text-anchor="end" font-weight="normal" >600</text>
<text transform="translate(156.60,283.04) scale(1,1.05)" font-size="9.0" text-anchor="end" font-weight="normal" >400</text>
<text transform="translate(156.60,308.16) scale(1,1.05)" font-size="9.0" text-anchor="end" font-weight="normal" >200</text>
<text transform="translate(156.60,333.28) scale(1,1.05)" font-size="9.0" text-anchor="end" font-weight="normal" >0</text>
<text transform="translate(177.70,341.70) scale(1,1.05)" font-size="9.85" text-anchor="middle" font-weight="normal" >Control</text>
<text transform="translate(201.85,341.70) scale(1,1.05)" font-size="9.85" text-anchor="middle" font-weight="normal" >TI</text>
<text transform="translate(229.80,341.70) scale(1,1.05)" font-size="9.85" text-anchor="middle" font-weight="normal" >ECP</text>
<text transform="translate(131.90,266.80) scale(1.0,1) rotate(-90)" font-size="10.1" text-anchor="middle">PLAUR <tspan font-size="9.6" stroke-width="0.1">&#916;</tspan> MFI to IgG control</text>
<text transform="translate(215.50,199.20) scale(1,1.05)" font-size="9.0" text-anchor="middle" font-weight="normal" >NS</text>
<circle cx="202.50" cy="243.10" r="1.0" fill="#222" stroke="none"/>
<circle cx="227.00" cy="212.60" r="1.0" fill="#222" stroke="none"/>
<text transform="translate(304.60,207.68) scale(1,1.05)" font-size="9.0" text-anchor="end" font-weight="normal" >100</text>
<text transform="translate(304.60,232.80) scale(1,1.05)" font-size="9.0" text-anchor="end" font-weight="normal" >80</text>
<text transform="translate(304.60,257.92) scale(1,1.05)" font-size="9.0" text-anchor="end" font-weight="normal" >60</text>
<text transform="translate(304.60,283.04) scale(1,1.05)" font-size="9.0" text-anchor="end" font-weight="normal" >40</text>
<text transform="translate(304.60,308.16) scale(1,1.05)" font-size="9.0" text-anchor="end" font-weight="normal" >20</text>
<text transform="translate(304.60,333.28) scale(1,1.05)" font-size="9.0" text-anchor="end" font-weight="normal" >0</text>
<text transform="translate(327.10,341.70) scale(1,1.05)" font-size="9.85" text-anchor="middle" font-weight="normal" >Control</text>
<text transform="translate(351.00,341.70) scale(1,1.05)" font-size="9.85" text-anchor="middle" font-weight="normal" >TI</text>
<text transform="translate(379.35,341.70) scale(1,1.05)" font-size="9.85" text-anchor="middle" font-weight="normal" >ECP</text>
<text transform="translate(286.50,268.20) scale(1.0,1) rotate(-90)" font-size="10.1" text-anchor="middle">% CCL2<tspan font-size="5.8" dy="-3.7">+</tspan><tspan dy="3.7"> cells, <tspan font-size="9.6" stroke-width="0.1">&#916;</tspan> to IgG control</tspan></text>
<text transform="translate(364.25,214.50) scale(1,1.05)" font-size="9.0" text-anchor="middle" font-weight="normal" >NS</text>
<circle cx="346.75" cy="230.60" r="1.0" fill="#222" stroke="none"/>
<circle cx="350.00" cy="230.60" r="1.0" fill="#222" stroke="none"/>
<circle cx="353.25" cy="230.60" r="1.0" fill="#222" stroke="none"/>
<circle cx="372.50" cy="230.60" r="1.0" fill="#222" stroke="none"/>
<circle cx="375.75" cy="230.60" r="1.0" fill="#222" stroke="none"/>
<circle cx="379.00" cy="230.60" r="1.0" fill="#222" stroke="none"/>
<text transform="translate(429.40,207.68) scale(1,1.05)" font-size="9.0" text-anchor="end" font-weight="normal" >60</text>
<text transform="translate(429.40,249.55) scale(1,1.05)" font-size="9.0" text-anchor="end" font-weight="normal" >40</text>
<text transform="translate(429.40,291.42) scale(1,1.05)" font-size="9.0" text-anchor="end" font-weight="normal" >20</text>
<text transform="translate(429.40,333.28) scale(1,1.05)" font-size="9.0" text-anchor="end" font-weight="normal" >0</text>
<text transform="translate(452.70,341.70) scale(1,1.05)" font-size="9.85" text-anchor="middle" font-weight="normal" >Control</text>
<text transform="translate(476.95,341.70) scale(1,1.05)" font-size="9.85" text-anchor="middle" font-weight="normal" >TI</text>
<text transform="translate(504.70,341.70) scale(1,1.05)" font-size="9.85" text-anchor="middle" font-weight="normal" >ECP</text>
<text transform="translate(411.30,266.70) scale(1.0,1) rotate(-90)" font-size="9.7" text-anchor="middle">% CXCL5<tspan font-size="5.8" dy="-3.7">+</tspan><tspan dy="3.7"> cells, <tspan font-size="9.6" stroke-width="0.1">&#916;</tspan> to IgG control</tspan></text>
<text transform="translate(489.50,213.30) scale(1,1.05)" font-size="9.0" text-anchor="middle" font-weight="normal" >NS</text>
<circle cx="473.50" cy="229.85" r="1.0" fill="#222" stroke="none"/>
<circle cx="476.75" cy="229.85" r="1.0" fill="#222" stroke="none"/>
<circle cx="480.00" cy="229.85" r="1.0" fill="#222" stroke="none"/>
<circle cx="499.12" cy="229.85" r="1.0" fill="#222" stroke="none"/>
<circle cx="502.38" cy="229.85" r="1.0" fill="#222" stroke="none"/>
<text transform="translate(30.30,383.98) scale(1,1.05)" font-size="9.0" text-anchor="end" font-weight="normal" >250</text>
<text transform="translate(30.30,409.11) scale(1,1.05)" font-size="9.0" text-anchor="end" font-weight="normal" >200</text>
<text transform="translate(30.30,434.24) scale(1,1.05)" font-size="9.0" text-anchor="end" font-weight="normal" >150</text>
<text transform="translate(30.30,459.37) scale(1,1.05)" font-size="9.0" text-anchor="end" font-weight="normal" >100</text>
<text transform="translate(30.30,484.50) scale(1,1.05)" font-size="9.0" text-anchor="end" font-weight="normal" >50</text>
<text transform="translate(30.30,509.63) scale(1,1.05)" font-size="9.0" text-anchor="end" font-weight="normal" >0</text>
<text transform="translate(12.50,441.50) scale(1.0,1) rotate(-90)" font-size="9.85" text-anchor="middle">ICAM-1 <tspan font-size="9.6" stroke-width="0.1">&#916;</tspan> MFI to IgG control</text>
<circle cx="104.90" cy="421.60" r="1.0" fill="#222" stroke="none"/>
<circle cx="129.18" cy="436.40" r="1.0" fill="#222" stroke="none"/>
<circle cx="132.43" cy="436.40" r="1.0" fill="#222" stroke="none"/>
<circle cx="157.80" cy="442.30" r="1.0" fill="#222" stroke="none"/>
<text transform="translate(208.30,383.98) scale(1,1.05)" font-size="9.0" text-anchor="end" font-weight="normal" >400</text>
<text transform="translate(208.30,415.40) scale(1,1.05)" font-size="9.0" text-anchor="end" font-weight="normal" >300</text>
<text transform="translate(208.30,446.81) scale(1,1.05)" font-size="9.0" text-anchor="end" font-weight="normal" >200</text>
<text transform="translate(208.30,478.22) scale(1,1.05)" font-size="9.0" text-anchor="end" font-weight="normal" >100</text>
<text transform="translate(208.30,509.63) scale(1,1.05)" font-size="9.0" text-anchor="end" font-weight="normal" >0</text>
<text transform="translate(187.50,444.20) scale(1.0,1) rotate(-90)" font-size="9.85" text-anchor="middle">PLAUR <tspan font-size="9.6" stroke-width="0.1">&#916;</tspan> MFI to IgG control</text>
<circle cx="336.30" cy="480.90" r="1.0" fill="#222" stroke="none"/>
<text transform="translate(377.70,383.98) scale(1,1.05)" font-size="9.0" text-anchor="end" font-weight="normal" >50</text>
<text transform="translate(377.70,409.11) scale(1,1.05)" font-size="9.0" text-anchor="end" font-weight="normal" >40</text>
<text transform="translate(377.70,434.24) scale(1,1.05)" font-size="9.0" text-anchor="end" font-weight="normal" >30</text>
<text transform="translate(377.70,459.37) scale(1,1.05)" font-size="9.0" text-anchor="end" font-weight="normal" >20</text>
<text transform="translate(377.70,484.50) scale(1,1.05)" font-size="9.0" text-anchor="end" font-weight="normal" >10</text>
<text transform="translate(377.70,509.63) scale(1,1.05)" font-size="9.0" text-anchor="end" font-weight="normal" >0</text>
<text transform="translate(363.00,441.20) scale(1.0,1) rotate(-90)" font-size="9.85" text-anchor="middle">% CCL2<tspan font-size="5.8" dy="-3.7">+</tspan><tspan dy="3.7"> cells, <tspan font-size="9.6" stroke-width="0.1">&#916;</tspan> to IgG control</tspan></text>
<circle cx="450.07" cy="466.70" r="1.0" fill="#222" stroke="none"/>
<circle cx="453.32" cy="466.70" r="1.0" fill="#222" stroke="none"/>
<circle cx="476.38" cy="460.00" r="1.0" fill="#222" stroke="none"/>
<circle cx="479.62" cy="460.00" r="1.0" fill="#222" stroke="none"/>
<circle cx="503.57" cy="491.30" r="1.0" fill="#222" stroke="none"/>
<circle cx="506.82" cy="491.30" r="1.0" fill="#222" stroke="none"/>
<text transform="translate(30.30,532.68) scale(1,1.05)" font-size="9.0" text-anchor="end" font-weight="normal" >50</text>
<text transform="translate(30.30,557.68) scale(1,1.05)" font-size="9.0" text-anchor="end" font-weight="normal" >40</text>
<text transform="translate(30.30,582.68) scale(1,1.05)" font-size="9.0" text-anchor="end" font-weight="normal" >30</text>
<text transform="translate(30.30,607.68) scale(1,1.05)" font-size="9.0" text-anchor="end" font-weight="normal" >20</text>
<text transform="translate(30.30,632.68) scale(1,1.05)" font-size="9.0" text-anchor="end" font-weight="normal" >10</text>
<text transform="translate(30.30,657.68) scale(1,1.05)" font-size="9.0" text-anchor="end" font-weight="normal" >0</text>
<text transform="translate(13.00,590.90) scale(1.0,1) rotate(-90)" font-size="9.85" text-anchor="middle">% CXCL5<tspan font-size="5.8" dy="-3.7">+</tspan><tspan dy="3.7"> cells, <tspan font-size="9.6" stroke-width="0.1">&#916;</tspan> to IgG control</tspan></text>
<circle cx="103.28" cy="603.00" r="1.0" fill="#222" stroke="none"/>
<circle cx="106.53" cy="603.00" r="1.0" fill="#222" stroke="none"/>
<circle cx="131.90" cy="607.10" r="1.0" fill="#222" stroke="none"/>
<circle cx="159.20" cy="641.10" r="1.0" fill="#222" stroke="none"/>
<text transform="translate(447.55,559.83) scale(1,1.05)" font-size="9.4" text-anchor="end" font-weight="normal" >80</text>
<text transform="translate(447.55,591.13) scale(1,1.05)" font-size="9.4" text-anchor="end" font-weight="normal" >60</text>
<text transform="translate(447.55,622.43) scale(1,1.05)" font-size="9.4" text-anchor="end" font-weight="normal" >40</text>
<text transform="translate(447.55,653.73) scale(1,1.05)" font-size="9.4" text-anchor="end" font-weight="normal" >20</text>
<text transform="translate(447.55,685.03) scale(1,1.05)" font-size="9.4" text-anchor="end" font-weight="normal" >0</text>
<text transform="translate(476.60,692.60) scale(1,1.05)" font-size="9.9" text-anchor="middle" font-weight="normal" >Control</text>
<text transform="translate(500.40,692.60) scale(1,1.05)" font-size="9.9" text-anchor="middle" font-weight="normal" >TI</text>
<text transform="translate(428.20,610.70) scale(1.0,1) rotate(-90)" font-size="10.3" text-anchor="middle">% PKH<tspan font-size="7.0" dy="-3.5">+</tspan><tspan dy="3.5"> of CD11b</tspan><tspan font-size="7.0" dy="-3.5">+</tspan><tspan dy="3.5"> cells</tspan></text>
<text transform="translate(4.10,12.00) scale(1,1.0)" font-size="12.2" text-anchor="start" font-weight="bold" stroke-width="0.5">A</text>
<text transform="translate(4.30,188.20) scale(1,1.0)" font-size="12.2" text-anchor="start" font-weight="bold" stroke-width="0.5">B</text>
<text transform="translate(276.60,188.20) scale(1,1.0)" font-size="12.2" text-anchor="start" font-weight="bold" stroke-width="0.5">C</text>
<text transform="translate(3.90,364.30) scale(1,1.0)" font-size="12.2" text-anchor="start" font-weight="bold" stroke-width="0.5">D</text>
<text transform="translate(422.80,540.00) scale(1,1.0)" font-size="12.2" text-anchor="start" font-weight="bold" stroke-width="0.5">E</text>
<text transform="translate(217.50,552.00) scale(1,1.0)" font-size="9.9" text-anchor="start" font-weight="normal" >Control</text>
<text transform="translate(217.50,562.50) scale(1,1.0)" font-size="9.9" text-anchor="start" font-weight="normal" >TI</text>
<text transform="translate(217.50,573.20) scale(1,1.0)" font-size="9.9" text-anchor="start" font-weight="normal" >No plate passage</text>
<text transform="translate(217.50,583.70) scale(1,1.0)" font-size="9.9" text-anchor="start" font-weight="normal" >Platelet depl. a-CD41</text>
<text transform="translate(217.50,593.20) scale(1,1.0)" font-size="9.9" text-anchor="start" font-weight="normal" >No plate passage; platelet depl. a-CD41</text>
</g>
</svg>
</body></html>
